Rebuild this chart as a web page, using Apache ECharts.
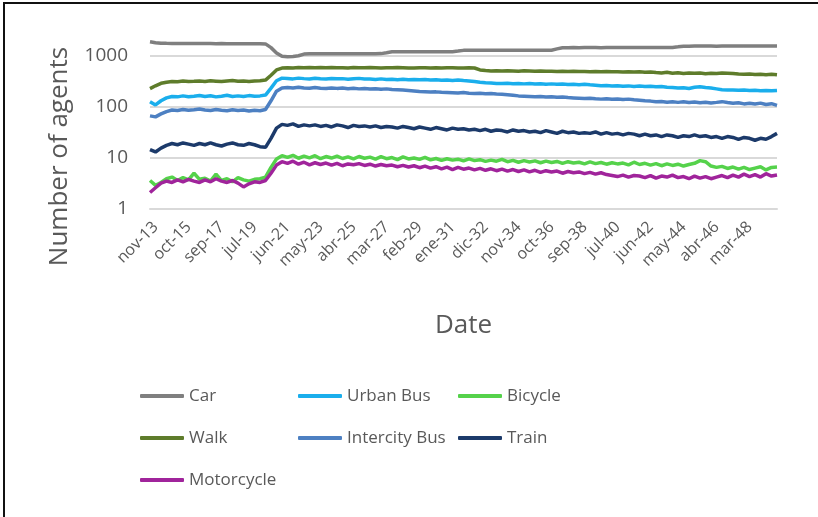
<!DOCTYPE html>
<html>
<head>
<meta charset="utf-8">
<script src="https://cdn.jsdelivr.net/npm/echarts@6/dist/echarts.min.js"></script>
<style>
  html, body { margin: 0; padding: 0; background: #fff; }
  #agents { width: 818px; height: 517px; }
  #frame { position: absolute; left: 3px; top: 2px; right: 0; bottom: 0;
           border-left: 2px solid #111; border-top: 2px solid #111; pointer-events: none; }
</style>
</head>
<body>
<div id="agents"></div>
<div id="frame"></div>
<script>
var tickLabels = ['nov-13', 'oct-15', 'sep-17', 'jul-19', 'jun-21', 'may-23', 'abr-25', 'mar-27', 'feb-29', 'ene-31',
  'dic-32', 'nov-34', 'oct-36', 'sep-38', 'jul-40', 'jun-42', 'may-44', 'abr-46', 'mar-48'];
var stepsPerLabel = 6;

var car = [1850, 1770, 1730, 1720, 1715, 1710, 1712, 1708, 1705, 1702,
  1700, 1700, 1698, 1700, 1696, 1695, 1697, 1693, 1690, 1692,
  1690, 1680, 1420, 1120, 960, 945, 955, 985, 1060, 1075,
  1080, 1078, 1080, 1082, 1080, 1079, 1081, 1080, 1083, 1080,
  1082, 1080, 1084, 1130, 1180, 1182, 1180, 1178, 1183, 1181,
  1180, 1184, 1182, 1180, 1185, 1183, 1215, 1255, 1258, 1256,
  1260, 1258, 1262, 1260, 1259, 1263, 1261, 1260, 1264, 1262,
  1260, 1263, 1265, 1262, 1340, 1415, 1418, 1420, 1417, 1421,
  1420, 1422, 1419, 1423, 1421, 1420, 1424, 1422, 1420, 1425,
  1423, 1421, 1426, 1424, 1422, 1427, 1470, 1515, 1518, 1520,
  1519, 1522, 1520, 1518, 1523, 1521, 1520, 1524, 1522, 1520,
  1523, 1521, 1525, 1522, 1520];

var walk = [225, 255, 285, 300, 310, 305, 315, 308, 312, 318,
  310, 320, 314, 308, 316, 322, 312, 318, 310, 315,
  320, 330, 410, 520, 565, 575, 570, 578, 572, 580,
  575, 578, 572, 580, 574, 576, 570, 578, 575, 572,
  578, 574, 570, 576, 572, 578, 574, 570, 565, 572,
  576, 570, 574, 568, 572, 575, 570, 566, 572, 568,
  520, 505, 498, 502, 495, 500, 497, 493, 499, 495,
  490, 494, 488, 492, 486, 490, 485, 489, 483, 487,
  482, 486, 480, 484, 478, 482, 476, 480, 474, 478,
  470, 476, 462, 455, 468, 450, 460, 445, 455, 448,
  452, 440, 448, 442, 455, 450, 445, 432, 428, 435,
  425, 430, 420, 428, 418];

var urbanBus = [125, 108, 130, 148, 158, 155, 162, 156, 160, 165,
  158, 163, 155, 160, 166, 158, 162, 157, 164, 159,
  162, 168, 230, 320, 360, 355, 348, 360, 352, 345,
  358, 350, 346, 355, 349, 352, 344, 350, 356, 347,
  345, 340, 348, 338, 344, 336, 342, 335, 340, 333,
  338, 330, 335, 328, 332, 325, 330, 322, 318, 310,
  300, 292, 288, 284, 282, 286, 280, 284, 278, 282,
  276, 280, 274, 278, 272, 276, 270, 274, 268, 272,
  266, 262, 255, 258, 252, 256, 250, 254, 248, 252,
  246, 250, 244, 248, 240, 236, 230, 234, 226, 238,
  244, 236, 230, 222, 214, 210, 212, 208, 210, 206,
  208, 204, 207, 203, 206];

var intercityBus = [66, 63, 72, 80, 86, 84, 88, 85, 87, 90,
  86, 84, 88, 85, 83, 87, 84, 86, 82, 85,
  83, 88, 130, 200, 232, 236, 230, 238, 232, 228,
  235, 229, 226, 232, 227, 230, 224, 228, 222, 226,
  220, 224, 218, 222, 216, 214, 210, 206, 202, 198,
  196, 192, 194, 190, 188, 186, 184, 188, 182, 180,
  182, 178, 180, 176, 174, 170, 166, 162, 160, 158,
  156, 158, 154, 156, 152, 154, 150, 148, 146, 144,
  146, 142, 140, 143, 139, 141, 138, 140, 136, 133,
  130, 128, 124, 126, 122, 125, 121, 124, 120, 123,
  119, 122, 118, 121, 125, 120, 116, 119, 113, 116,
  112, 117, 110, 114, 106];

var train = [14.5, 13, 15.5, 17.5, 19, 18, 19.5, 18.5, 17.5, 19,
  18, 19.5, 18, 17, 18.5, 19.5, 18, 17.5, 19, 18,
  16.5, 16, 24, 38, 45, 43, 46, 41, 44, 42,
  44, 41, 43, 40, 44, 42, 39, 43, 41, 42,
  40, 42, 39, 41, 40, 38, 41, 39, 37, 40,
  38, 36, 39, 37, 35, 38, 36, 37, 35, 36,
  34, 36, 33, 35, 34, 32, 35, 33, 34, 32,
  33, 31, 34, 32, 30, 33, 31, 32, 30, 31,
  30, 32, 29, 31, 29, 30, 28, 30, 29, 27,
  29, 27, 28, 26, 28, 27, 25, 27, 26, 28,
  26, 27, 25, 26, 24, 26, 25, 23, 25, 24,
  22, 24, 23, 26, 30];

var bicycle = [3.6, 2.9, 3.3, 3.9, 4.2, 3.6, 4.1, 3.7, 5.0, 3.8,
  4.0, 3.5, 4.8, 3.6, 3.9, 3.4, 4.1, 3.7, 3.5, 3.8,
  3.9, 4.2, 6.5, 9.5, 11.0, 10.2, 11.2, 9.8, 10.8, 10.0,
  11.0, 9.6, 10.6, 9.9, 10.8, 9.7, 10.4, 9.5, 10.6, 9.8,
  10.3, 9.4, 10.5, 9.6, 10.1, 9.2, 10.4, 9.5, 9.9, 9.3,
  10.2, 9.1, 9.7, 8.9, 9.6, 9.0, 9.4, 8.7, 9.5, 8.8,
  9.2, 8.5, 9.0, 8.6, 9.3, 8.4, 8.9, 8.2, 8.8, 8.3,
  8.7, 8.0, 8.6, 8.1, 8.5, 7.8, 8.4, 7.9, 8.2, 7.6,
  8.3, 7.7, 8.1, 7.5, 8.0, 7.6, 7.9, 7.3, 8.2, 7.4,
  7.8, 7.2, 7.7, 7.0, 7.6, 7.1, 7.5, 6.9, 7.4, 7.8,
  8.8, 8.4, 6.9, 6.5, 6.8, 6.2, 6.6, 6.0, 6.5, 5.9,
  6.3, 6.7, 5.8, 6.5, 6.6];

var motorcycle = [2.1, 2.6, 3.2, 3.5, 3.3, 3.7, 3.4, 3.8, 3.5, 3.3,
  3.7, 3.4, 3.9, 3.5, 3.3, 3.6, 3.2, 2.7, 3.1, 3.4,
  3.3, 3.6, 5.0, 7.2, 8.4, 7.8, 8.6, 7.5, 8.2, 7.3,
  8.0, 7.4, 7.9, 7.2, 7.8, 7.0, 7.6, 7.3, 7.7, 7.1,
  7.5, 6.9, 7.4, 7.0, 7.2, 6.7, 7.1, 6.6, 7.0, 6.4,
  6.9, 6.3, 6.7, 6.1, 6.6, 5.9, 6.5, 6.0, 6.3, 5.8,
  6.2, 5.7, 6.1, 5.6, 6.0, 5.5, 5.9, 5.4, 5.8, 5.3,
  5.7, 5.2, 5.6, 5.3, 5.5, 5.0, 5.4, 5.1, 5.3, 4.9,
  5.2, 4.8, 5.1, 4.7, 4.5, 4.3, 4.6, 4.2, 4.5, 4.4,
  4.1, 4.5, 4.0, 4.4, 4.2, 4.6, 4.1, 4.3, 3.9, 4.4,
  4.0, 4.3, 3.9, 4.2, 4.5, 4.1, 4.6, 4.2, 4.8, 4.3,
  4.7, 4.2, 4.9, 4.4, 4.6];

var seriesNames = ['Car', 'Urban Bus', 'Bicycle', 'Walk', 'Intercity Bus', 'Train', 'Motorcycle'];
var seriesValues = [car, urbanBus, bicycle, walk, intercityBus, train, motorcycle];
var seriesColors = ['#7f7f7f', '#1aaeec', '#55d24b', '#5e7c2b', '#4d80c2', '#1c3a6a', '#a0249b'];

var categories = car.map(function (v, i) { return String(i); });

var textColor = '#595959';
var fontFamily = '"Open Sans", sans-serif';

var chart = echarts.init(document.getElementById('agents'));

var series = seriesNames.map(function (name, k) {
  return {
    name: name,
    type: 'line',
    data: seriesValues[k],
    symbol: 'none',
    color: seriesColors[k],
    lineStyle: { width: 3.5, color: seriesColors[k] },
    animation: false
  };
});

function legendColumn(names, left) {
  return {
    data: names,
    orient: 'vertical',
    left: left,
    top: 386,
    padding: 0,
    itemGap: 22,
    itemWidth: 44,
    itemHeight: 4,
    icon: 'roundRect',
    selectedMode: false,
    textStyle: { color: textColor, fontSize: 17, fontFamily: fontFamily, lineHeight: 20 }
  };
}

var option = {
  animation: false,
  backgroundColor: '#fff',
  grid: { left: 150, right: 41, top: 40, bottom: 308 },
  legend: [
    legendColumn(['Car', 'Walk', 'Motorcycle'], 140),
    legendColumn(['Urban Bus', 'Intercity Bus'], 298),
    legendColumn(['Bicycle', 'Train'], 458)
  ],
  xAxis: {
    type: 'category',
    data: categories,
    boundaryGap: false,
    name: 'Date',
    nameLocation: 'middle',
    nameGap: 104,
    nameTextStyle: { color: textColor, fontSize: 26, fontFamily: fontFamily },
    axisLine: { lineStyle: { color: '#d9d9d9', width: 2 } },
    axisTick: { show: false },
    axisLabel: {
      interval: stepsPerLabel - 1,
      rotate: 45,
      margin: 10,
      verticalAlign: 'top',
      color: textColor,
      fontSize: 16,
      fontFamily: fontFamily,
      formatter: function (value, index) {
        return tickLabels[index / stepsPerLabel] || '';
      }
    },
    splitLine: { show: false }
  },
  yAxis: {
    type: 'log',
    logBase: 10,
    min: 1,
    max: 2000,
    name: 'Number of agents',
    nameLocation: 'middle',
    nameGap: 77,
    nameTextStyle: { color: textColor, fontSize: 26, fontFamily: fontFamily, padding: [0, 64, 0, 0] },
    axisLine: { show: false },
    axisTick: { show: false },
    axisLabel: {
      showMaxLabel: false,
      margin: 22,
      color: textColor,
      fontSize: 19,
      fontFamily: fontFamily,
      formatter: function (value) { return String(value); }
    },
    splitLine: { showMaxLine: false, lineStyle: { color: '#d9d9d9', width: 2 } }
  },
  series: series
};

chart.setOption(option);
</script>
</body>
</html>
